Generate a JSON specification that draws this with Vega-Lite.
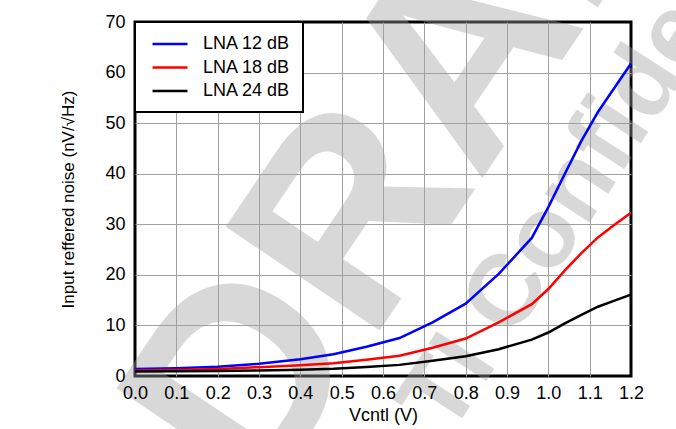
{
  "$schema": "https://vega.github.io/schema/vega-lite/v6.json",
  "width": 496,
  "height": 354,
  "autosize": "none",
  "padding": {"left": 135, "top": 22, "right": 45, "bottom": 53},
  "background": "white",
  "config": {
    "view": {"stroke": "black", "strokeWidth": 3},
    "font": "Liberation Sans",
    "axis": {"labelColor": "black", "titleColor": "black", "labelFont": "Liberation Sans", "titleFont": "Liberation Sans"}
  },
  "datasets": {
    "curves": [
      {"v": 0.0, "n": 1.4, "s": "LNA 12 dB"},
      {"v": 0.1, "n": 1.55, "s": "LNA 12 dB"},
      {"v": 0.2, "n": 1.85, "s": "LNA 12 dB"},
      {"v": 0.3, "n": 2.4, "s": "LNA 12 dB"},
      {"v": 0.4, "n": 3.3, "s": "LNA 12 dB"},
      {"v": 0.48, "n": 4.3, "s": "LNA 12 dB"},
      {"v": 0.56, "n": 5.8, "s": "LNA 12 dB"},
      {"v": 0.64, "n": 7.5, "s": "LNA 12 dB"},
      {"v": 0.72, "n": 10.6, "s": "LNA 12 dB"},
      {"v": 0.8, "n": 14.3, "s": "LNA 12 dB"},
      {"v": 0.88, "n": 20.2, "s": "LNA 12 dB"},
      {"v": 0.96, "n": 27.3, "s": "LNA 12 dB"},
      {"v": 1.0, "n": 33.4, "s": "LNA 12 dB"},
      {"v": 1.04, "n": 40.0, "s": "LNA 12 dB"},
      {"v": 1.08, "n": 46.5, "s": "LNA 12 dB"},
      {"v": 1.12, "n": 52.2, "s": "LNA 12 dB"},
      {"v": 1.16, "n": 57.0, "s": "LNA 12 dB"},
      {"v": 1.2, "n": 61.8, "s": "LNA 12 dB"},
      {"v": 0.0, "n": 1.1, "s": "LNA 18 dB"},
      {"v": 0.1, "n": 1.2, "s": "LNA 18 dB"},
      {"v": 0.2, "n": 1.4, "s": "LNA 18 dB"},
      {"v": 0.3, "n": 1.75, "s": "LNA 18 dB"},
      {"v": 0.4, "n": 2.15, "s": "LNA 18 dB"},
      {"v": 0.48, "n": 2.5, "s": "LNA 18 dB"},
      {"v": 0.56, "n": 3.2, "s": "LNA 18 dB"},
      {"v": 0.64, "n": 4.0, "s": "LNA 18 dB"},
      {"v": 0.72, "n": 5.6, "s": "LNA 18 dB"},
      {"v": 0.8, "n": 7.4, "s": "LNA 18 dB"},
      {"v": 0.88, "n": 10.6, "s": "LNA 18 dB"},
      {"v": 0.96, "n": 14.2, "s": "LNA 18 dB"},
      {"v": 1.0, "n": 17.2, "s": "LNA 18 dB"},
      {"v": 1.04, "n": 20.9, "s": "LNA 18 dB"},
      {"v": 1.08, "n": 24.3, "s": "LNA 18 dB"},
      {"v": 1.12, "n": 27.4, "s": "LNA 18 dB"},
      {"v": 1.16, "n": 29.9, "s": "LNA 18 dB"},
      {"v": 1.2, "n": 32.3, "s": "LNA 18 dB"},
      {"v": 0.0, "n": 0.9, "s": "LNA 24 dB"},
      {"v": 0.1, "n": 0.95, "s": "LNA 24 dB"},
      {"v": 0.2, "n": 1.0, "s": "LNA 24 dB"},
      {"v": 0.3, "n": 1.1, "s": "LNA 24 dB"},
      {"v": 0.4, "n": 1.25, "s": "LNA 24 dB"},
      {"v": 0.48, "n": 1.45, "s": "LNA 24 dB"},
      {"v": 0.56, "n": 1.8, "s": "LNA 24 dB"},
      {"v": 0.64, "n": 2.2, "s": "LNA 24 dB"},
      {"v": 0.72, "n": 3.0, "s": "LNA 24 dB"},
      {"v": 0.8, "n": 3.9, "s": "LNA 24 dB"},
      {"v": 0.88, "n": 5.3, "s": "LNA 24 dB"},
      {"v": 0.96, "n": 7.2, "s": "LNA 24 dB"},
      {"v": 1.0, "n": 8.6, "s": "LNA 24 dB"},
      {"v": 1.04, "n": 10.4, "s": "LNA 24 dB"},
      {"v": 1.08, "n": 12.1, "s": "LNA 24 dB"},
      {"v": 1.12, "n": 13.7, "s": "LNA 24 dB"},
      {"v": 1.16, "n": 14.9, "s": "LNA 24 dB"},
      {"v": 1.2, "n": 16.1, "s": "LNA 24 dB"}
    ]
  },
  "resolve": {"axis": {"x": "independent", "y": "independent"}},
  "layer": [
    {
      "data": {"values": [{}]},
      "mark": {"type": "text", "text": "DRAFT", "font": "Liberation Sans", "fontWeight": "bold", "fontSize": 270, "angle": -56, "align": "center", "baseline": "middle", "fill": "#a0a0a0", "opacity": 0.4},
      "encoding": {
        "x": {"datum": 0.76, "type": "quantitative", "scale": {"domain": [0, 1.2], "nice": false, "zero": false},
              "axis": {"orient": "top", "grid": true, "gridColor": "#a0a0a0", "gridWidth": 1, "gridOpacity": 1, "labels": false, "ticks": false, "domain": false, "title": null, "values": [0.1, 0.2, 0.3, 0.4, 0.5, 0.6, 0.7, 0.8, 0.9, 1.0, 1.1], "zindex": 0}},
        "y": {"datum": 58, "type": "quantitative", "scale": {"domain": [0, 70], "nice": false, "zero": false},
              "axis": {"orient": "right", "grid": true, "gridColor": "#a0a0a0", "gridWidth": 1, "gridOpacity": 1, "labels": false, "ticks": false, "domain": false, "title": null, "values": [10, 20, 30, 40, 50, 60], "zindex": 0}}
      }
    },
    {
      "data": {"values": [{}]},
      "mark": {"type": "text", "text": "TI Confidential", "font": "Liberation Sans", "fontWeight": "bold", "fontSize": 100, "angle": -57, "align": "left", "baseline": "middle", "fill": "#a0a0a0", "opacity": 0.4},
      "encoding": {
        "x": {"datum": 0.7, "type": "quantitative", "axis": null},
        "y": {"datum": -9, "type": "quantitative", "axis": null}
      }
    },
    {
      "data": {"name": "curves"},
      "mark": {"type": "line", "strokeWidth": 2.5},
      "encoding": {
        "x": {"field": "v", "type": "quantitative",
              "axis": {"orient": "bottom", "grid": false, "values": [0, 0.1, 0.2, 0.3, 0.4, 0.5, 0.6, 0.7, 0.8, 0.9, 1.0, 1.1, 1.2], "format": ".1f", "labelFontSize": 18, "ticks": false, "domain": false, "labelPadding": 8, "labelFlush": false, "labelOverlap": false, "title": "Vcntl (V)", "titleFontSize": 18, "titleFontWeight": "normal", "titlePadding": 4, "zindex": 1}},
        "y": {"field": "n", "type": "quantitative",
              "axis": {"orient": "left", "grid": false, "values": [0, 10, 20, 30, 40, 50, 60, 70], "labelFontSize": 18, "ticks": false, "domain": false, "labelPadding": 10, "labelFlush": false, "labelOverlap": false, "title": "Input reffered noise (nV/√Hz)", "titleFontSize": 17, "titleFontWeight": "normal", "titlePadding": 27, "zindex": 1}},
        "color": {"field": "s", "type": "nominal",
                  "scale": {"domain": ["LNA 12 dB", "LNA 18 dB", "LNA 24 dB"], "range": ["#0000ff", "#ff0000", "#000000"]},
                  "legend": {"title": null, "orient": "top-left", "offset": 0, "padding": 12, "strokeColor": "black", "fillColor": "white", "symbolType": "M-2,0H2", "symbolSize": 306, "symbolStrokeWidth": 2.5, "symbolOffset": 13, "labelFontSize": 18, "labelOffset": 23, "labelColor": "black", "labelFont": "Liberation Sans", "rowPadding": 4.5,
                             "encode": {"legend": {"update": {"strokeWidth": {"value": 2}}}}}}
      }
    }
  ]
}
